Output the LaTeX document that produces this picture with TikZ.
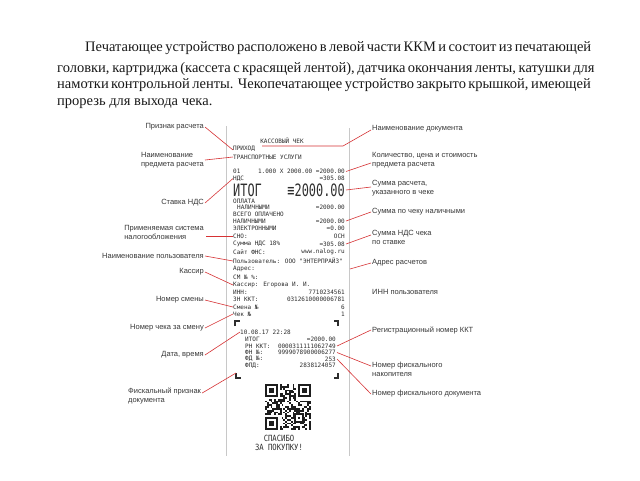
\documentclass[tikz,border=0pt]{standalone}
\usepackage{fontspec}
\setmainfont{Liberation Serif}
\newfontfamily\lblfont{Liberation Sans}
\newfontfamily\rcfont{DejaVu Sans Mono}
\newfontfamily\rcbig[FakeStretch=0.7]{DejaVu Sans Mono}
\newfontfamily\rcthx[FakeStretch=0.85]{DejaVu Sans Mono}
\definecolor{redline}{RGB}{214,50,52}
\definecolor{lbltext}{RGB}{55,55,55}
\definecolor{rctext}{RGB}{45,45,45}
\definecolor{paratext}{RGB}{25,25,25}
\definecolor{edge}{RGB}{200,200,200}
\definecolor{qrc}{RGB}{30,30,30}
\tikzset{
  para/.style={inner sep=0pt, anchor=base west, font=\fontsize{14.5}{17}\selectfont, text=paratext},
  lbl/.style={inner sep=0pt, font=\lblfont\fontsize{7.5}{9}\selectfont, text=lbltext, align=left},
  lblL/.style={lbl, anchor=east},
  lblR/.style={lbl, anchor=west},
  rc/.style={inner sep=0pt, font=\rcfont\fontsize{6}{7}\selectfont, text=rctext},
  rl/.style={rc, anchor=west},
  rr/.style={rc, anchor=east},
  rbig/.style={inner sep=0pt, font=\rcbig\fontsize{17}{18}\selectfont, text=rctext, text height=12.4pt, text depth=0pt},
  rthx/.style={inner sep=0pt, font=\rcthx\fontsize{8.5}{9}\selectfont, text=rctext},
  conn/.style={draw=redline, line width=0.6pt},
  corner/.style={draw=rctext, line width=1.1pt},
  paper/.style={draw=edge, line width=0.8pt},
  qrmod/.style={fill=qrc}
}
\begin{document}
\begin{tikzpicture}[x=1pt,y=-1pt]
\fill[white] (0,0) rectangle (640,480);
\useasboundingbox (0,0) rectangle (640,480);

% paragraph
\node[para] (p1) at (85,51) {\makebox[506pt][s]{Печатающее устройство расположено в левой части ККМ и состоит из печатающей}};
\node[para] (p2) at (57,72) {\makebox[534pt][s]{головки, картриджа (кассета с красящей лентой), датчика окончания ленты, катушки для}};
\node[para] (p3) at (57,88) {\makebox[519pt][s]{намотки контрольной ленты. Чекопечатающее устройство закрыто крышкой, имеющей}};
\node[para] (p4) at (57,105) {прорезь для выхода чека.};

% paper edges
\coordinate (eL1) at (226,126); \coordinate (eL2) at (226,456);
\coordinate (eR1) at (349,128); \coordinate (eR2) at (349,456);
\draw[paper] (eL1) -- (eL2);
\draw[paper] (eR1) -- (eR2);

% receipt text
\node[rc] (rTitle) at (282,141) {КАССОВЫЙ ЧЕК};
\node[rl] (rPrih) at (233,149) {ПРИХОД};
\node[rl] (rTov) at (233,157) {ТРАНСПОРТНЫЕ УСЛУГИ};
\node[rl] (r01) at (233,171.5) {01};
\node[rr] (r01v) at (345,171.5) {1.000 Х 2000.00 =2000.00};
\node[rl] (rNds) at (233,178.5) {НДС};
\node[rr] (rNdsv) at (345,178.5) {=305.08};
\node[rbig, anchor=base west] (rItog) at (233,196) {ИТОГ};
\node[rbig, anchor=base east] (rItogv) at (345,196) {≡2000.00};
\node[rl] (rOpl) at (233,201) {ОПЛАТА};
\node[rl] (rNal1) at (237,207.5) {НАЛИЧНЫМИ};
\node[rr] (rNal1v) at (345,207.5) {=2000.00};
\node[rl] (rVsego) at (233,214) {ВСЕГО ОПЛАЧЕНО};
\node[rl] (rNal2) at (233,221) {НАЛИЧНЫМИ};
\node[rr] (rNal2v) at (345,221) {=2000.00};
\node[rl] (rEl) at (233,228) {ЭЛЕКТРОННЫМИ};
\node[rr] (rElv) at (345,228) {=0.00};
\node[rl] (rSno) at (233,236) {СНО:};
\node[rr] (rSnov) at (345,236) {ОСН};
\node[rl] (rSnds) at (233,244) {Сумма НДС 18\%};
\node[rr] (rSndsv) at (345,244) {=305.08};
\node[rl] (rSite) at (233,252) {Сайт ФНС:};
\node[rr] (rSitev) at (345,252) {www.nalog.ru};
\node[rl] (rPolz) at (233,261) {Пользователь: ООО "ЭНТЕРПРАЙЗ"};
\node[rl] (rAdr) at (233,269) {Адрес:};
\node[rl] (rSm) at (233,277) {СМ № \%:};
\node[rl] (rKass) at (233,285) {Кассир: Егорова И. И.};
\node[rl] (rInn) at (233,292) {ИНН:};
\node[rr] (rInnv) at (345,292) {7710234561};
\node[rl] (rZn) at (233,299) {ЗН ККТ:};
\node[rr] (rZnv) at (345,299) {0312610000006781};
\node[rl] (rSmena) at (233,307) {Смена №};
\node[rr] (rSmenav) at (345,307) {6};
\node[rl] (rChek) at (233,314) {Чек №};
\node[rr] (rChekv) at (345,314) {1};
\draw[corner] (235,326) -- (235,321) -- (239.5,321);
\draw[corner] (338,326) -- (338,321) -- (333.5,321);
\node[rl] (rDate) at (240,332) {10.08.17 22:28};
\node[rl] (rIt2) at (245,339) {ИТОГ};
\node[rr] (rIt2v) at (336,339) {=2000.00};
\node[rl] (rRn) at (245,346) {РН ККТ:};
\node[rr] (rRnv) at (336,346) {0000311111062749};
\node[rl] (rFn) at (245,352.5) {ФН №:};
\node[rr] (rFnv) at (336,352.5) {9999078900006277};
\node[rl] (rFd) at (245,359) {ФД №:};
\node[rr] (rFdv) at (336,359) {253};
\node[rl] (rFpd) at (245,365.5) {ФПД:};
\node[rr] (rFpdv) at (336,365.5) {2838124057};
\coordinate (cBL) at (236,373);
\draw[corner] (cBL) -- (236,378) -- (240.5,378);
\draw[corner] (338,373) -- (338,378) -- (333.5,378);

% QR code
\begin{scope}[shift={(265,384)}]
  \pgfmathsetseed{12}
  \foreach \i in {0,...,24}{
    \foreach \j in {0,...,24}{
      \pgfmathtruncatemacro\rr{rnd*2}
      \ifnum\rr=1 \fill[qrmod] (\i*1.84,\j*1.84) rectangle ++(1.84,1.84);\fi
    }
  }
  \foreach \a/\b in {0/0,18/0,0/18}{
    \fill[white] ({(\a-1)*1.84},{(\b-1)*1.84}) rectangle ++(16.56,16.56);
    \fill[qrmod] ({\a*1.84},{\b*1.84}) rectangle ++(12.88,12.88);
    \fill[white] ({(\a+1)*1.84},{(\b+1)*1.84}) rectangle ++(9.2,9.2);
    \fill[qrmod] ({(\a+2)*1.84},{(\b+2)*1.84}) rectangle ++(5.52,5.52);
  }
  \fill[qrmod] ({16*1.84},{16*1.84}) rectangle ++(9.2,9.2);
  \fill[white] ({17*1.84},{17*1.84}) rectangle ++(5.52,5.52);
  \fill[qrmod] ({18*1.84},{18*1.84}) rectangle ++(1.84,1.84);
\end{scope}
\node[rthx] (rThx1) at (279,438) {СПАСИБО};
\node[rthx] (rThx2) at (279,447) {ЗА ПОКУПКУ!};

% left labels
\node[lblL] (lPriz) at (204,127) {Признак расчета};
\node[lblL] (lNaim) at (204,160) {Наименование\\предмета расчета};
\node[lblL] (lStav) at (204,203) {Ставка НДС};
\node[lblL] (lSno) at (204,232) {Применяемая система\\налогообложения};
\node[lblL] (lPolz) at (204,256) {Наименование пользователя};
\node[lblL] (lKass) at (204,272) {Кассир};
\node[lblL] (lSmena) at (204,300) {Номер смены};
\node[lblL] (lChek) at (204,328) {Номер чека за смену};
\node[lblL] (lData) at (204,355) {Дата, время};
\node[lblR] (lFisc) at (128,396) {Фискальный признак\\документа};

% right labels
\node[lblR] (rDoc) at (372,129) {Наименование документа};
\node[lblR] (rKol) at (372,160) {Количество, цена и стоимость\\предмета расчета};
\node[lblR] (rSum) at (372,188) {Сумма расчета,\\указанного в чеке};
\node[lblR] (rNalL) at (372,212) {Сумма по чеку наличными};
\node[lblR] (rNdsL) at (372,237) {Сумма НДС чека\\по ставке};
\node[lblR] (rAdrL) at (372,263) {Адрес расчетов};
\node[lblR] (rInnL) at (372,292) {ИНН пользователя};
\node[lblR] (rRegL) at (372,330) {Регистрационный номер ККТ};
\node[lblR] (rFnL) at (372,369) {Номер фискального\\накопителя};
\node[lblR] (rFdL) at (372,394) {Номер фискального документа};

% left connectors
\draw[conn] ([xshift=1pt]lPriz.east) -- ([yshift=-1pt]rPrih.west);
\draw[conn] ([xshift=1pt]lNaim.east) -- (rTov.west);
\draw[conn] ([xshift=1pt]lStav.east) -- (rNds.west);
\draw[conn] ([xshift=2pt,yshift=-4pt]lSno.east) -- (rSno.west);
\draw[conn] ([xshift=1pt]lPolz.east) -- (rPolz.west);
\draw[conn] ([xshift=1pt]lKass.east) -- (rKass.west);
\draw[conn] ([xshift=1pt]lSmena.east) -- (rSmena.west);
\draw[conn] ([xshift=1pt]lChek.east) -- (rChek.west);
\draw[conn] ([xshift=1pt]lData.east) -- (rDate.west);
\draw[conn] ([xshift=1pt,yshift=3pt]lFisc.east) -- (cBL);

% right connectors
\coordinate (uR) at (343,146);
\coordinate (uL) at (262,146);
\draw[conn] ([xshift=-1pt,yshift=-1pt]rDoc.west) -- (uR) -- (uL);
\draw[conn] ([xshift=-1pt,yshift=-3pt]rKol.west) -- ([xshift=1pt]r01v.east);
\draw[conn] ([xshift=-1pt,yshift=1pt]rSum.west) -- ([xshift=1pt,yshift=6pt]rItogv.base east);
\draw[conn] ([xshift=-1pt]rNalL.west) -- ([xshift=1pt]rNal2v.east);
\draw[conn] ([xshift=-1pt,yshift=2pt]rNdsL.west) -- ([xshift=1pt]rSndsv.east);
\coordinate (adrEnd) at (350,269);
\draw[conn] ([xshift=-1pt]rAdrL.west) -- (adrEnd);
\draw[conn] ([xshift=-1pt]rRegL.west) -- ([xshift=1pt]rRnv.east);
\draw[conn] ([xshift=-1pt,yshift=3pt]rFnL.west) -- ([xshift=1pt]rFnv.east);
\draw[conn] ([xshift=-1pt]rFdL.west) -- ([xshift=1pt]rFdv.east);
\end{tikzpicture}
\end{document}
